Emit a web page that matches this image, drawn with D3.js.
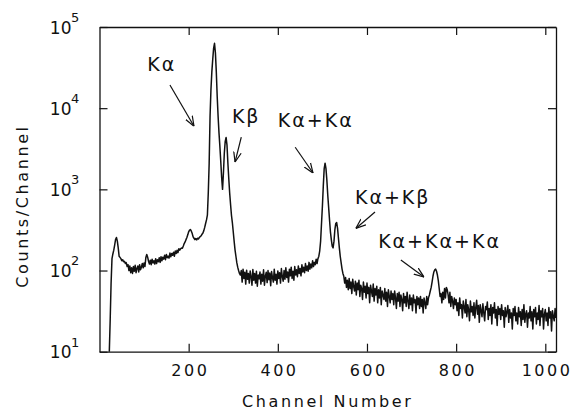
<!DOCTYPE html>
<html>
<head>
<meta charset="utf-8">
<script src="https://cdn.jsdelivr.net/npm/d3@7"></script>
<style>
  html, body { margin: 0; padding: 0; background: #fff; }
  svg { display: block; }
  text { font-family: "DejaVu Sans", sans-serif; fill: #111; }
</style>
</head>
<body>
<svg id="chart" width="573" height="418"></svg>
<script>
// Pulse-height spectrum: counts per channel, channels 20..1024 in steps of 2
const firstChannel = 20;
const channelStep = 2;
const counts = [
  4, 10, 25, 70, 140, 160, 178, 205, 240, 255,
  230, 190, 150, 145, 140, 132, 136, 128, 130, 122,
  125, 112, 118, 100, 114, 94, 108, 92, 112, 98,
  116, 94, 106, 114, 96, 118, 102, 110, 122, 108,
  124, 112, 145, 158, 146, 130, 120, 134, 118, 138,
  124, 132, 120, 140, 122, 136, 128, 144, 126, 148,
  132, 146, 138, 154, 136, 158, 144, 150, 142, 164,
  148, 162, 154, 168, 150, 174, 162, 178, 166, 186,
  178, 185, 190, 188, 200, 215, 225, 240, 255, 275,
  300, 315, 320, 305, 285, 260, 250, 240, 248, 238,
  250, 245, 255, 262, 268, 280, 290, 310, 340, 380,
  420, 480, 900, 2100, 8000, 17000, 28000, 40000, 55000, 63000,
  48000, 28000, 14000, 8000, 5000, 3400, 2200, 1400, 1000, 1600,
  2800, 3900, 4350, 3500, 2100, 1350, 900, 650, 480, 390,
  300, 230, 180, 150, 125, 110, 100, 92, 88, 100,
  72, 104, 80, 95, 68, 101, 78, 92, 70, 99,
  84, 66, 103, 76, 92, 70, 98, 64, 88, 79,
  96, 68, 90, 74, 102, 66, 86, 95, 71, 100,
  77, 93, 65, 97, 82, 72, 104, 76, 90, 68,
  99, 80, 94, 70, 106, 84, 74, 100, 78, 108,
  82, 96, 72, 104, 86, 110, 80, 98, 76, 112,
  88, 102, 84, 114, 92, 106, 86, 118, 96, 110,
  94, 122, 100, 114, 98, 126, 104, 120, 108, 132,
  112, 126, 118, 138, 122, 140, 150, 175, 230, 380,
  620, 1100, 1800, 2100, 1800, 1300, 850, 600, 420, 300,
  240, 200, 190, 230, 320, 380, 390, 330, 250, 190,
  150, 125, 105, 92, 85, 70, 82, 62, 76, 58,
  80, 60, 72, 52, 78, 64, 56, 74, 50, 70,
  58, 76, 48, 66, 60, 44, 72, 54, 64, 46,
  70, 52, 62, 40, 66, 56, 48, 68, 42, 60,
  50, 64, 40, 58, 46, 62, 38, 56, 50, 44,
  60, 42, 54, 36, 58, 48, 40, 56, 44, 52,
  38, 56, 46, 34, 52, 42, 54, 36, 50, 44,
  32, 52, 40, 48, 36, 54, 42, 34, 50, 38,
  46, 32, 50, 40, 44, 30, 48, 38, 46, 34,
  48, 36, 44, 30, 46, 40, 34, 48, 38, 46,
  50, 56, 62, 72, 85, 96, 102, 104, 98, 88,
  75, 60, 48, 52, 40, 54, 44, 60, 46, 62,
  58, 50, 40, 54, 36, 48, 42, 34, 46, 38,
  44, 32, 40, 28, 46, 34, 38, 26, 42, 36,
  30, 44, 27, 38, 33, 24, 42, 31, 36, 28,
  40, 26, 35, 43, 29, 37, 23, 38, 32, 27,
  39, 30, 24, 36, 33, 41, 25, 34, 28, 38,
  22, 35, 30, 40, 26, 33, 21, 36, 29, 34,
  25, 38, 28, 32, 20, 35, 27, 31, 37, 23,
  33, 26, 30, 19, 34, 28, 36, 24, 30, 22,
  35, 27, 31, 21, 33, 25, 38, 23, 29, 32,
  20, 30, 26, 36, 24, 31, 19, 33, 27, 35,
  22, 30, 25, 37, 21, 32, 27, 34, 19, 29,
  33, 24, 30, 21, 35, 26, 31, 18, 32, 27,
  24, 34, 26
];

// Axis ticks
const xTicks = [200, 400, 600, 800, 1000];
const yTicks = [10, 100, 1000, 10000, 100000];

// Peak annotations: label anchor, arrow tail and arrow tip in (channel, counts)
const annoLabels = ["Kα", "Kβ", "Kα+Kα", "Kα+Kβ", "Kα+Kα+Kα"];
const annoText  = [[107, 28600], [297, 6550], [400, 5850], [573, 660], [625, 189]];
const annoTail  = [[158, 19300], [318, 4400], [439, 3300], [618, 525], [676, 135]];
const annoTip   = [[212, 6000], [304, 2170], [479, 1590], [575, 330], [728, 83]];

const svg = d3.select("#chart");
const plot = { left: 99.5, right: 556, top: 27, bottom: 351.7 };

const x = d3.scaleLinear().domain([0, 1024]).range([plot.left, plot.right]);
const y = d3.scaleLog().domain([10, 100000]).range([plot.bottom, plot.top]);

const spectrum = counts.map((c, i) => ({ ch: firstChannel + i * channelStep, v: c }));

svg.append("clipPath").attr("id", "plotClip")
  .append("rect")
  .attr("x", plot.left).attr("y", plot.top)
  .attr("width", plot.right - plot.left).attr("height", plot.bottom - plot.top);

// spectrum trace
svg.append("path")
  .datum(spectrum)
  .attr("clip-path", "url(#plotClip)")
  .attr("fill", "none")
  .attr("stroke", "#111")
  .attr("stroke-width", 1.5)
  .attr("stroke-linejoin", "round")
  .attr("d", d3.line().x(d => x(d.ch)).y(d => y(d.v)));

// frame axes with inward ticks
const tick = 8;
function styleAxis(g) {
  g.selectAll("path.domain").attr("stroke", "#111").attr("stroke-width", 1.3);
  g.selectAll(".tick line").attr("stroke", "#111").attr("stroke-width", 1.2);
}
const gBottom = svg.append("g").attr("transform", `translate(0,${plot.bottom})`)
  .call(d3.axisBottom(x).tickValues(xTicks).tickSizeInner(-tick).tickSizeOuter(0)
        .tickPadding(13).tickFormat(d3.format("d")));
styleAxis(gBottom);
gBottom.selectAll(".tick text")
  .attr("font-size", 16).attr("letter-spacing", 2.5)
  .attr("font-family", "DejaVu Sans, sans-serif").attr("fill", "#111")
  .attr("dx", 1.2);

const gTop = svg.append("g").attr("transform", `translate(0,${plot.top})`)
  .call(d3.axisTop(x).tickValues(xTicks).tickSizeInner(-tick).tickSizeOuter(0).tickFormat(""));
styleAxis(gTop);

const gLeft = svg.append("g").attr("transform", `translate(${plot.left},0)`)
  .call(d3.axisLeft(y).tickValues(yTicks).tickSizeInner(-tick).tickSizeOuter(0).tickFormat(""));
styleAxis(gLeft);

const gRight = svg.append("g").attr("transform", `translate(${plot.right},0)`)
  .call(d3.axisRight(y).tickValues(yTicks).tickSizeInner(-tick).tickSizeOuter(0).tickFormat(""));
styleAxis(gRight);

// y tick labels as powers of ten
const yLab = svg.append("g");
yTicks.forEach(t => {
  const yy = y(t);
  yLab.append("text")
    .attr("x", plot.left - 28).attr("y", yy + 6.6)
    .attr("text-anchor", "end").attr("font-size", 17)
    .text("10");
  yLab.append("text")
    .attr("x", plot.left - 28.5).attr("y", yy - 5.2)
    .attr("text-anchor", "start").attr("font-size", 13)
    .text(String(Math.round(Math.log10(t))));
});

// axis titles
svg.append("text")
  .attr("x", (plot.left + plot.right) / 2 + 0).attr("y", 407)
  .attr("text-anchor", "middle").attr("font-size", 16).attr("letter-spacing", 2.6)
  .text("Channel Number");

svg.append("text")
  .attr("transform", `translate(28,206) rotate(-90)`)
  .attr("text-anchor", "middle").attr("font-size", 16).attr("letter-spacing", 2.6)
  .text("Counts/Channel");

// arrow head marker
svg.append("defs").append("marker")
  .attr("id", "head").attr("viewBox", "0 0 10 10")
  .attr("refX", 10).attr("refY", 5)
  .attr("markerWidth", 10).attr("markerHeight", 10)
  .attr("markerUnits", "userSpaceOnUse")
  .attr("orient", "auto")
  .append("path").attr("d", "M0,1.2 L10,5 L0,8.8")
  .attr("fill", "none").attr("stroke", "#111").attr("stroke-width", 1.2);

const anno = svg.append("g");
annoLabels.forEach((lab, i) => {
  anno.append("text")
    .attr("x", x(annoText[i][0])).attr("y", y(annoText[i][1]))
    .attr("font-size", 19).attr("letter-spacing", 2)
    .text(lab);
  anno.append("line")
    .attr("x1", x(annoTail[i][0])).attr("y1", y(annoTail[i][1]))
    .attr("x2", x(annoTip[i][0])).attr("y2", y(annoTip[i][1]))
    .attr("stroke", "#111").attr("stroke-width", 1.2)
    .attr("marker-end", "url(#head)");
});
</script>
</body>
</html>
